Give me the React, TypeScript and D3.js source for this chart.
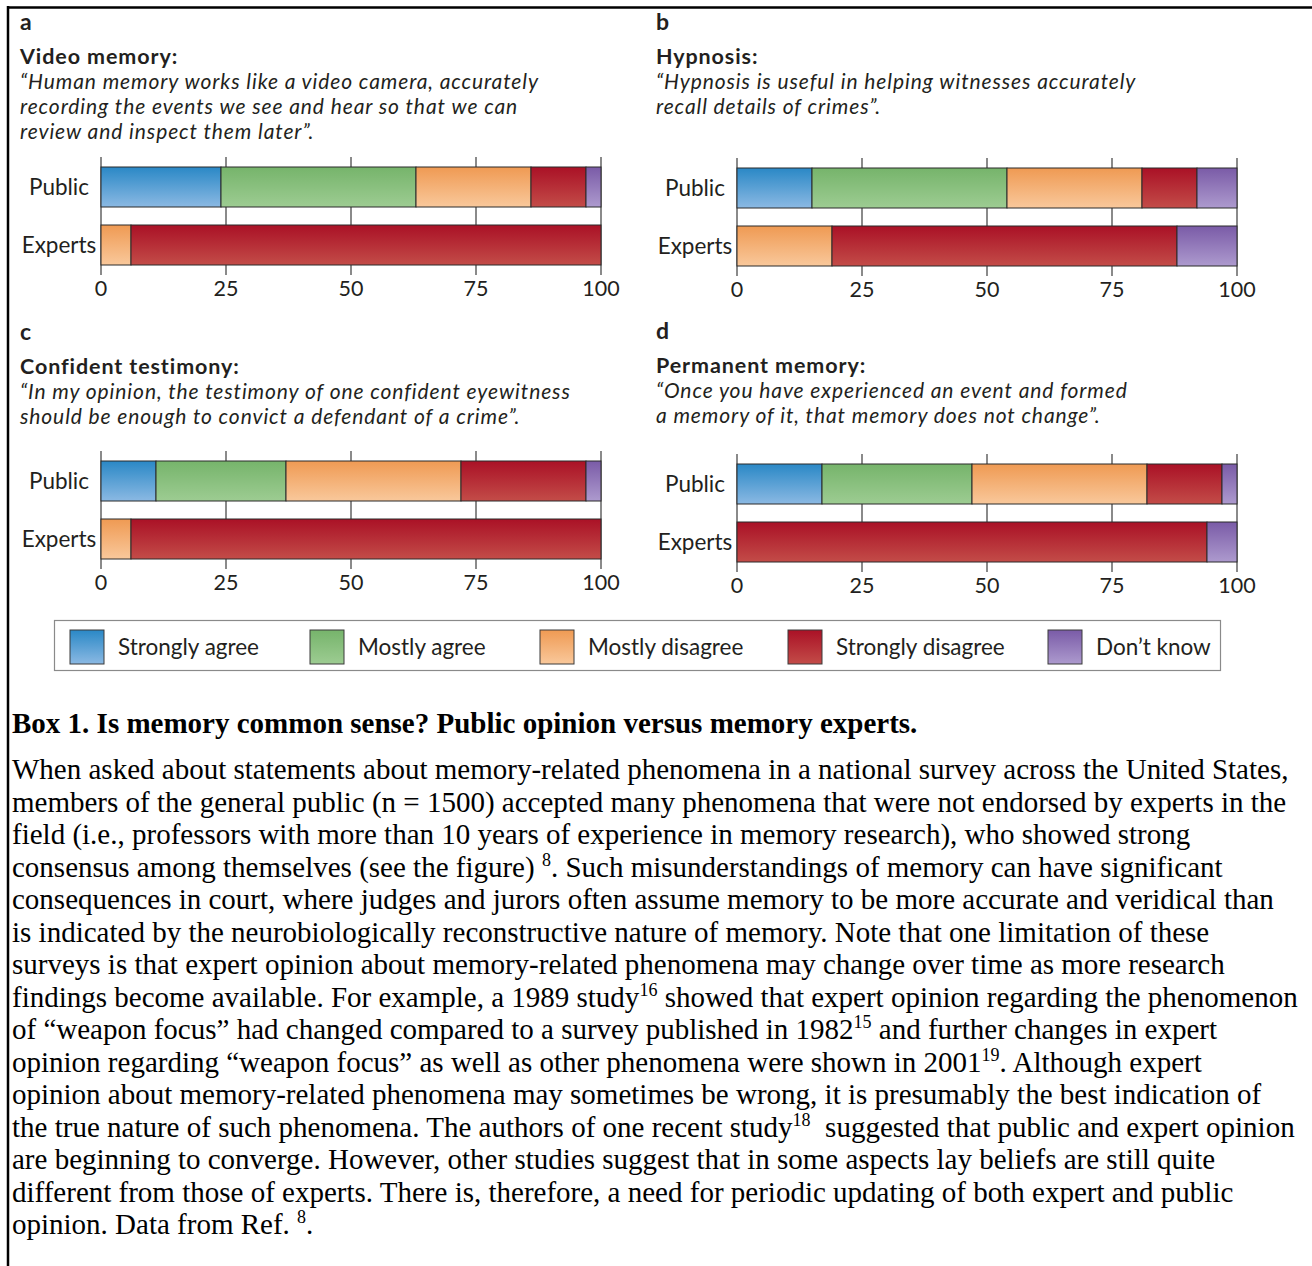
import React from 'react';
import * as d3 from 'd3';

// response categories, in stacking order
const categories = ['Strongly agree', 'Mostly agree', 'Mostly disagree', 'Strongly disagree', 'Don\u2019t know'];
const groups = ['Public', 'Experts'];

// percentages
const videoPublic = [24, 39, 23, 11, 3];
const videoExperts = [0, 0, 6, 94, 0];
const hypnosisPublic = [15, 39, 27, 11, 8];
const hypnosisExperts = [0, 0, 19, 69, 12];
const testimonyPublic = [11, 26, 35, 25, 3];
const testimonyExperts = [0, 0, 6, 94, 0];
const permanentPublic = [17, 30, 35, 15, 3];
const permanentExperts = [0, 0, 0, 94, 6];

const tickValues = [0, 25, 50, 75, 100];

const panelLetters = ['a', 'b', 'c', 'd'];
const panelTitles = ['Video memory:', 'Hypnosis:', 'Confident testimony:', 'Permanent memory:'];
const panelQuotes = [
  ['\u201cHuman memory works like a video camera, accurately', 'recording the events we see and hear so that we can', 'review and inspect them later\u201d.'],
  ['\u201cHypnosis is useful in helping witnesses accurately', 'recall details of crimes\u201d.'],
  ['\u201cIn my opinion, the testimony of one confident eyewitness', 'should be enough to convict a defendant of a crime\u201d.'],
  ['\u201cOnce you have experienced an event and formed', 'a memory of it, that memory does not change\u201d.'],
];
const panelData = [
  [videoPublic, videoExperts],
  [hypnosisPublic, hypnosisExperts],
  [testimonyPublic, testimonyExperts],
  [permanentPublic, permanentExperts],
];

const boxTitle = 'Box 1. Is memory common sense? Public opinion versus memory experts.';
// ^n^ marks a superscript reference
const bodyLines = [
  'When asked about statements about memory-related phenomena in a national survey across the United States,',
  'members of the general public (n = 1500) accepted many phenomena that were not endorsed by experts in the',
  'field (i.e., professors with more than 10 years of experience in memory research), who showed strong',
  'consensus among themselves (see the figure) ^8^. Such misunderstandings of memory can have significant',
  'consequences in court, where judges and jurors often assume memory to be more accurate and veridical than',
  'is indicated by the neurobiologically reconstructive nature of memory. Note that one limitation of these',
  'surveys is that expert opinion about memory-related phenomena may change over time as more research',
  'findings become available. For example, a 1989 study^16^ showed that expert opinion regarding the phenomenon',
  'of \u201cweapon focus\u201d had changed compared to a survey published in 1982^15^ and further changes in expert',
  'opinion regarding \u201cweapon focus\u201d as well as other phenomena were shown in 2001^19^. Although expert',
  'opinion about memory-related phenomena may sometimes be wrong, it is presumably the best indication of',
  'the true nature of such phenomena. The authors of one recent study^18^  suggested that public and expert opinion',
  'are beginning to converge. However, other studies suggest that in some aspects lay beliefs are still quite',
  'different from those of experts. There is, therefore, a need for periodic updating of both expert and public',
  'opinion. Data from Ref. ^8^.',
];

const gradients = [
  ['#2a88c6', '#8bb9e3'],
  ['#76b46b', '#9dcc92'],
  ['#ef9a53', '#f9c89b'],
  ['#aa1126', '#c34c48'],
  ['#7a5ba7', '#ad9ace'],
];

// layout of the four panels
const panels = [
  { x0: 101, tx: 20, letterY: 30, titleY: 64, quoteY: 89, barTop: 167 },
  { x0: 737, tx: 656, letterY: 30, titleY: 64, quoteY: 89, barTop: 168 },
  { x0: 101, tx: 20, letterY: 340, titleY: 374, quoteY: 399, barTop: 461 },
  { x0: 737, tx: 656, letterY: 339, titleY: 373, quoteY: 398, barTop: 464 },
];
const legendX = [70, 310, 540, 788, 1048];

const sans = 'Lato, "Open Sans", sans-serif';
const serif = '"Liberation Serif", "Times New Roman", serif';
const ink = '#231f20';

function Panel({ idx }) {
  const p = panels[idx];
  const x = d3.scaleLinear().domain([0, 100]).range([p.x0, p.x0 + 500]);
  const y = d3.scaleBand().domain(groups).range([p.barTop, p.barTop + 98]).paddingInner(18 / 58);
  const rows = panelData[idx];
  return (
    <g>
      <text x={p.tx} y={p.letterY} fontFamily={sans} fontWeight={700} fontSize={23} fill={ink}>{panelLetters[idx]}</text>
      <text x={p.tx} y={p.titleY} fontFamily={sans} fontWeight={700} fontSize={21.5} letterSpacing={0.9} fill={ink}>{panelTitles[idx]}</text>
      {panelQuotes[idx].map((q, i) => (
        <text key={i} x={p.tx} y={p.quoteY + i * 25} fontFamily={sans} fontStyle="italic" fontSize={21} letterSpacing={0.9} fill={ink}>{q}</text>
      ))}
      {tickValues.map((t) => (
        <g key={t}>
          <line x1={x(t)} x2={x(t)} y1={p.barTop - 10} y2={p.barTop + 108} stroke="#6d6d6d" strokeWidth={1.6} />
          <text x={x(t)} y={p.barTop + 129} textAnchor="middle" fontFamily={sans} fontSize={21.5} fill={ink}>{t}</text>
        </g>
      ))}
      {rows.map((vals, r) => {
        const ends = Array.from(d3.cumsum(vals));
        return (
          <g key={r}>
            {vals.map((v, c) => v > 0 && (
              <rect key={c} x={x(ends[c] - v)} y={y(groups[r])} width={x(ends[c]) - x(ends[c] - v)} height={y.bandwidth()}
                fill={`url(#grad${c})`} stroke="#2a2a2a" strokeWidth={1} />
            ))}
            <text x={p.x0 - 42} y={y(groups[r]) + y.bandwidth() / 2 + 8} textAnchor="middle" fontFamily={sans} fontSize={22.5} fill={ink}>{groups[r]}</text>
          </g>
        );
      })}
    </g>
  );
}

function BodyLine({ line, yPos }) {
  const parts = line.split('^');
  return (
    <text x={12} y={yPos} fontFamily={serif} fontSize={29} fill="#000" style={{ whiteSpace: 'pre' }}>
      {parts.map((s, i) => i % 2 === 1
        ? <tspan key={i} dy={-11} fontSize={18}>{s}</tspan>
        : <tspan key={i} dy={i > 0 ? 11 : 0}>{s}</tspan>)}
    </text>
  );
}

export default function App() {
  return (
    <svg width={1312} height={1266} style={{ position: 'absolute', left: 0, top: 0, background: '#fff' }}>
      <defs>
        {gradients.map((g, i) => (
          <linearGradient key={i} id={`grad${i}`} x1="0" y1="0" x2="0" y2="1">
            <stop offset="0" stopColor={g[0]} />
            <stop offset="1" stopColor={g[1]} />
          </linearGradient>
        ))}
      </defs>
      <line x1={8} x2={1312} y1={7.5} y2={7.5} stroke="#000" strokeWidth={2.5} />
      <line x1={8} x2={8} y1={6} y2={1266} stroke="#000" strokeWidth={2.5} />
      {panels.map((_, i) => <Panel key={i} idx={i} />)}
      <rect x={54.5} y={620.5} width={1166} height={50} fill="none" stroke="#8a8a8a" strokeWidth={1.2} />
      {categories.map((c, i) => (
        <g key={c}>
          <rect x={legendX[i]} y={630} width={34} height={34} fill={`url(#grad${i})`} stroke="#3a3a3a" strokeWidth={1} />
          <text x={legendX[i] + 48} y={655} fontFamily={sans} fontSize={22.5} fill={ink}>{c}</text>
        </g>
      ))}
      <text x={12} y={733} fontFamily={serif} fontWeight={700} fontSize={29} fill="#000">{boxTitle}</text>
      {bodyLines.map((l, i) => <BodyLine key={i} line={l} yPos={779 + i * 32.5} />)}
    </svg>
  );
}
